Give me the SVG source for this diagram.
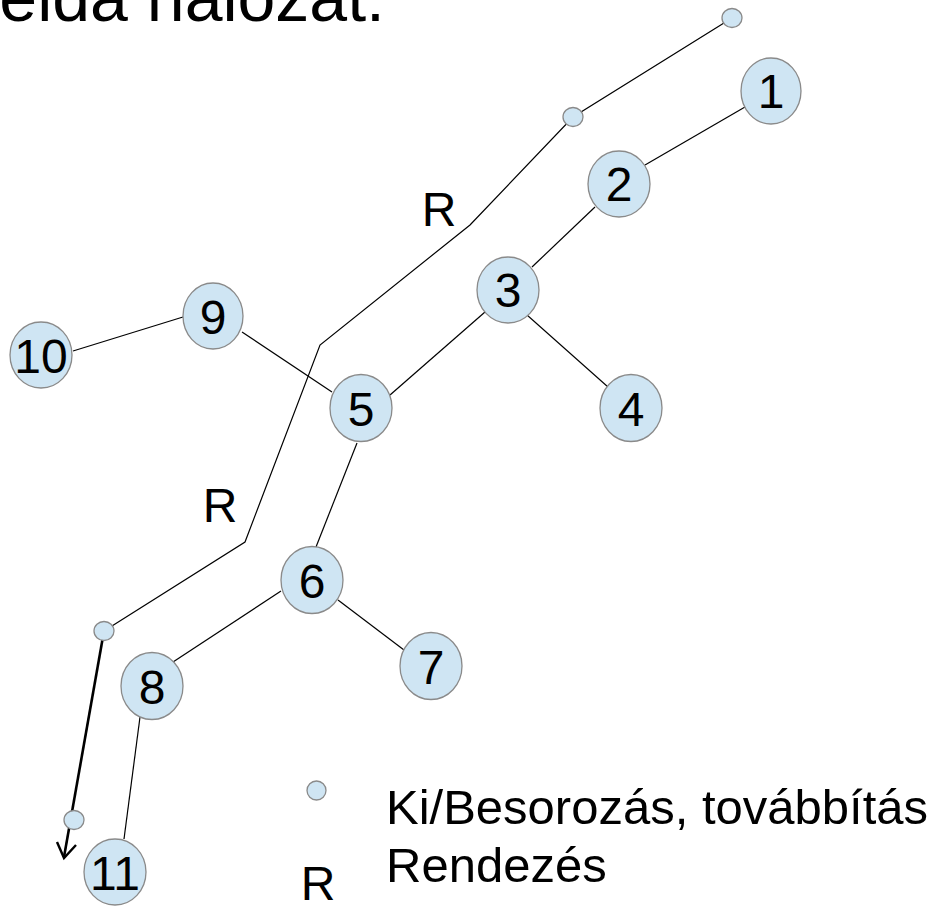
<svg xmlns="http://www.w3.org/2000/svg" width="933" height="908" viewBox="0 0 933 908">
<defs>
<style>
.n{fill:#cfe5f3;stroke:#8a8a8a;stroke-width:1.3}
.t{font-family:"Liberation Sans",Arial,sans-serif;font-size:48px;fill:#000}
.nl{text-anchor:middle}
.e{stroke:#000;stroke-width:1.2;fill:none}
</style>
</defs>
<rect width="933" height="908" fill="#fff"/>
<text class="t" x="-46" y="21" style="font-size:68px">Példa hálózat:</text>
<g id="connectors">
<line class="e" x1="645" y1="165" x2="745" y2="107"/>
<line class="e" x1="595" y1="207" x2="532" y2="267"/>
<line class="e" x1="527" y1="315" x2="608" y2="387"/>
<line class="e" x1="390" y1="395" x2="485" y2="312"/>
<line class="e" x1="242" y1="332" x2="332" y2="392"/>
<line class="e" x1="73" y1="351" x2="183" y2="317"/>
<line class="e" x1="357" y1="443" x2="316" y2="547"/>
<line class="e" x1="338" y1="600" x2="404" y2="650"/>
<line class="e" x1="281" y1="591" x2="173" y2="662"/>
<line class="e" x1="140" y1="717" x2="124" y2="839"/>
<polyline class="e" points="732,18 573,117 470,225 320,345 245,542 104,631"/>
<polyline points="104,631 64,857" fill="none" stroke="#000" stroke-width="2.6"/>
<polyline points="57,842 64,858 76,845" fill="none" stroke="#000" stroke-width="2.4" stroke-linejoin="miter"/>
</g>
<g id="dot-a"><ellipse class="n" cx="732" cy="18" rx="10" ry="9.5"/></g>
<g id="dot-b"><ellipse class="n" cx="573" cy="117" rx="10" ry="9.5"/></g>
<g id="dot-c"><ellipse class="n" cx="104" cy="631" rx="10" ry="9.5"/></g>
<g id="dot-d"><ellipse class="n" cx="74" cy="820" rx="10" ry="9.5"/></g>
<g id="node-1"><ellipse class="n" cx="771" cy="91" rx="30" ry="33"/><text class="t nl" x="771" y="108">1</text></g>
<g id="node-2"><ellipse class="n" cx="619" cy="184" rx="31" ry="33"/><text class="t nl" x="619" y="201">2</text></g>
<g id="node-3"><ellipse class="n" cx="508" cy="290" rx="31" ry="33"/><text class="t nl" x="508" y="307">3</text></g>
<g id="node-4"><ellipse class="n" cx="631" cy="408" rx="31" ry="33.5"/><text class="t nl" x="631" y="426">4</text></g>
<g id="node-5"><ellipse class="n" cx="361" cy="408" rx="31" ry="33.5"/><text class="t nl" x="361" y="426">5</text></g>
<g id="node-6"><ellipse class="n" cx="312" cy="580" rx="31" ry="33.5"/><text class="t nl" x="312" y="598">6</text></g>
<g id="node-7"><ellipse class="n" cx="431" cy="666" rx="31" ry="33.5"/><text class="t nl" x="431" y="684">7</text></g>
<g id="node-8"><ellipse class="n" cx="152" cy="686" rx="31" ry="33.5"/><text class="t nl" x="152" y="704">8</text></g>
<g id="node-9"><ellipse class="n" cx="213" cy="316" rx="30" ry="33"/><text class="t nl" x="213" y="334">9</text></g>
<g id="node-10"><ellipse class="n" cx="41" cy="355" rx="31" ry="33"/><text class="t nl" x="41" y="373">10</text></g>
<g id="node-11"><ellipse class="n" cx="115" cy="872" rx="31" ry="33"/><text class="t nl" x="115" y="890">11</text></g>
<text class="t nl" x="439" y="226">R</text>
<text class="t nl" x="220" y="522">R</text>
<g id="legend">
<ellipse class="n" cx="316.5" cy="790.5" rx="9.5" ry="9.5"/>
<text class="t" x="386" y="824" style="font-size:49px">Ki/Besorozás, továbbítás</text>
<text class="t nl" x="318" y="900">R</text>
<text class="t" x="386" y="882" style="font-size:49px">Rendezés</text>
</g>
</svg>
